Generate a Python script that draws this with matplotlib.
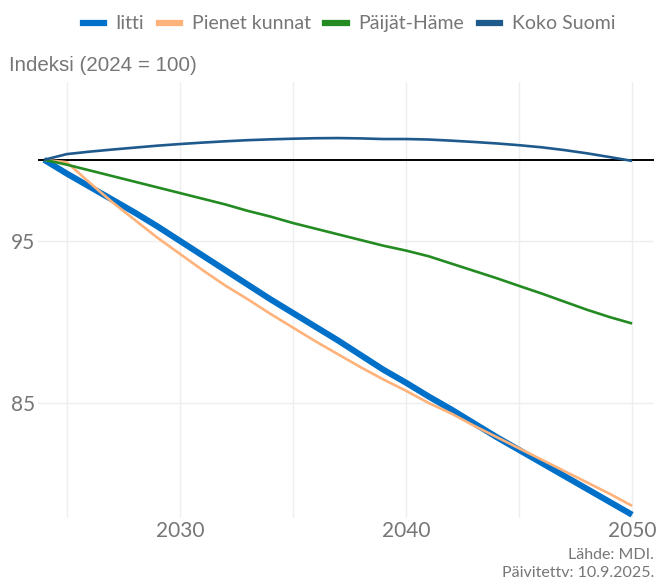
import matplotlib.pyplot as plt
from matplotlib.lines import Line2D

years = list(range(2024, 2051))

iitti = [100.0, 99.15, 98.35, 97.55, 96.75, 95.9, 95.0, 94.1, 93.2, 92.3,
         91.4, 90.55, 89.7, 88.85, 87.95, 87.05, 86.25, 85.4, 84.6, 83.75,
         82.9, 82.1, 81.3, 80.5, 79.7, 78.9, 78.1]
pienet = [100.0, 99.85, 98.6, 97.4, 96.3, 95.2, 94.2, 93.2, 92.25, 91.4,
          90.5, 89.65, 88.8, 88.0, 87.2, 86.45, 85.75, 85.0, 84.35, 83.6,
          82.9, 82.2, 81.5, 80.8, 80.1, 79.4, 78.65]
paijat_hame = [100.0, 99.7, 99.35, 99.0, 98.65, 98.3, 97.95, 97.6, 97.25, 96.85,
               96.5, 96.1, 95.75, 95.4, 95.05, 94.7, 94.4, 94.05, 93.6, 93.15,
               92.7, 92.22, 91.75, 91.25, 90.75, 90.3, 89.9]
koko_suomi = [100.0, 100.35, 100.5, 100.63, 100.75, 100.87, 100.97, 101.06, 101.14, 101.21,
              101.26, 101.3, 101.33, 101.34, 101.32, 101.28, 101.28, 101.25, 101.18, 101.1,
              101.01, 100.9, 100.77, 100.6, 100.4, 100.17, 99.93]

labels = ["Iitti", "Pienet kunnat", "Päijät-Häme", "Koko Suomi"]
colors = ["#0070C9", "#FFB27A", "#238B22", "#1F5A8D"]
widths = [4.4, 1.9, 1.9, 1.9]

x_ticks = [2030, 2040, 2050]
x_grid = [2025, 2030, 2035, 2040, 2045, 2050]
y_ticks = [85, 95]

grey = "#767676"

fig = plt.figure(figsize=(6.56, 5.81), dpi=100)
ax = fig.add_axes([0.058, 0.1084, 0.939, 0.7505])

for xv in x_grid:
    ax.axvline(xv, color="#EEEEEE", lw=1.0, zorder=0)
for yv in y_ticks:
    ax.axhline(yv, color="#EEEEEE", lw=1.0, zorder=0)

ax.axhline(100, color="black", lw=1.4, zorder=1)

series = [iitti, pienet, paijat_hame, koko_suomi]
for vals, lab, col, w in zip(series, labels, colors, widths):
    ax.plot(years, vals, color=col, lw=w, label=lab, zorder=2,
            solid_capstyle="butt")

ax.set_xlim(2023.73, 2050.97)
ax.set_ylim(77.9, 104.8)
ax.set_xticks(x_ticks)
ax.set_yticks(y_ticks)
ax.set_xticklabels([str(v) for v in x_ticks], fontfamily="Lato", fontsize=15, color=grey)
ax.set_yticklabels([str(v) for v in y_ticks], fontfamily="Lato", fontsize=15, color=grey)
ax.tick_params(length=0, pad=2)
for s in ax.spines.values():
    s.set_visible(False)

fig.text(0.014, 0.888, "Indeksi (2024 = 100)", fontfamily="Liberation Sans",
         fontsize=14.8, color=grey, va="center", ha="left")

handles = [Line2D([0], [0], color=c, lw=4.5) for c in colors]
fig.legend(handles, labels, loc="center", bbox_to_anchor=(0.532, 0.959), ncol=4,
           frameon=False, prop={"family": "Lato", "size": 14},
           labelcolor=grey, handlelength=1.1, handletextpad=0.6, columnspacing=0.75)

fig.text(0.997, 0.045, "Lähde: MDI.", fontfamily="Lato", fontsize=11.5, color=grey,
         ha="right", va="center")
fig.text(0.997, 0.014, "Päivitettv: 10.9.2025.", fontfamily="Lato", fontsize=11.5,
         color=grey, ha="right", va="center")

fig.savefig("out.png", dpi=100, facecolor="white")
